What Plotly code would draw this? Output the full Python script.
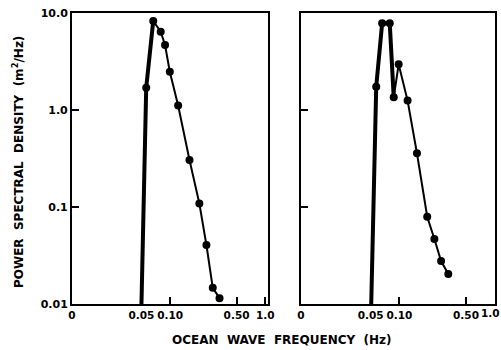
import plotly.graph_objects as go

# Wave spectra, two records (frequency in Hz, power spectral density in m^2/Hz)
freq_a = [0.050, 0.0561, 0.0665, 0.0797, 0.0885, 0.0993, 0.1215, 0.160, 0.203, 0.241, 0.281, 0.331]
psd_a = [0.010, 1.70, 8.27, 6.40, 4.68, 2.48, 1.11, 0.305, 0.109, 0.0406, 0.0147, 0.0115]

freq_b = [0.0507, 0.0572, 0.0660, 0.0793, 0.0873, 0.0983, 0.122, 0.153, 0.196, 0.233, 0.274, 0.326]
psd_b = [0.010, 1.74, 7.83, 7.83, 1.35, 2.96, 1.25, 0.358, 0.0794, 0.0468, 0.0277, 0.0204]

x_tick_vals = [0.0093, 0.05, 0.10, 0.50, 1.0]
x_tick_text = ["0", "0.05", "0.10", "0.50", "1.0"]
y_tick_vals = [0.01, 0.1, 1, 10]
y_tick_text = ["0.01", "0.1", "1.0", "10.0"]

FONT = "DejaVu Sans"
INK = "black"

fig = go.Figure()


def add_spectrum(freq, psd, heavy_upto, xa, ya):
    # heavy stroke for the steep forward face of the spectrum
    fig.add_trace(go.Scatter(
        x=freq[:heavy_upto + 1], y=psd[:heavy_upto + 1], mode="lines",
        line=dict(color=INK, width=4), xaxis=xa, yaxis=ya,
        showlegend=False, hoverinfo="skip"))
    # lighter stroke with point markers for the rest
    fig.add_trace(go.Scatter(
        x=freq[1:], y=psd[1:], mode="lines+markers",
        line=dict(color=INK, width=2),
        marker=dict(color=INK, size=8),
        xaxis=xa, yaxis=ya, showlegend=False))


add_spectrum(freq_a, psd_a, 2, "x", "y")
add_spectrum(freq_b, psd_b, 4, "x2", "y2")

axis_common = dict(
    type="log", showline=True, mirror=True, linecolor=INK, linewidth=2,
    showgrid=False, zeroline=False, ticks="inside", ticklen=7, tickwidth=2,
    tickcolor=INK, tickangle=0, automargin=False, ticklabeloverflow="allow",
)
x_font = dict(family=FONT, size=10.5, color=INK, weight="bold")
y_font = dict(family=FONT, size=11, color=INK, weight="bold")

# the last label of the right panel sits at the page edge: draw it right-aligned
right_text = x_tick_text[:-1] + [""]

fig.update_layout(
    width=501, height=350,
    margin=dict(l=0, r=0, t=0, b=0),
    paper_bgcolor="white", plot_bgcolor="white",
    xaxis=dict(axis_common, domain=[0.1437, 0.5349], anchor="y", tickfont=x_font,
               range=[-2.0315, 0.0294], tickvals=x_tick_vals, ticktext=x_tick_text),
    xaxis2=dict(axis_common, domain=[0.6008, 0.988], anchor="y2", tickfont=x_font,
                range=[-2.0315, 0.003], tickvals=x_tick_vals, ticktext=right_text),
    yaxis=dict(axis_common, domain=[0.1314, 0.9629], anchor="x", tickfont=y_font,
               range=[-2, 1], tickvals=y_tick_vals, ticktext=y_tick_text,
               ticklabelstandoff=0),
    yaxis2=dict(axis_common, domain=[0.1314, 0.9629], anchor="x2",
                range=[-2, 1], tickvals=y_tick_vals, showticklabels=False),
    annotations=[
        dict(text=x_tick_text[-1], xref="paper", yref="paper", x=1.0, y=0.1314,
             xanchor="right", yanchor="top", yshift=-2, borderpad=0, showarrow=False,
             font=x_font),
        dict(text="<b>OCEAN  WAVE  FREQUENCY  (Hz)</b>", xref="paper", yref="paper",
             x=0.563, y=0.028, xanchor="center", yanchor="middle", showarrow=False,
             font=dict(family=FONT, size=12, color=INK)),
        dict(text="<b>POWER  SPECTRAL  DENSITY  (m<sup>2</sup>/Hz)</b>", xref="paper",
             yref="paper", x=0.036, y=0.537, xanchor="center", yanchor="middle",
             textangle=-90, showarrow=False, font=dict(family=FONT, size=12, color=INK)),
    ],
)

fig.write_html("out.html")
